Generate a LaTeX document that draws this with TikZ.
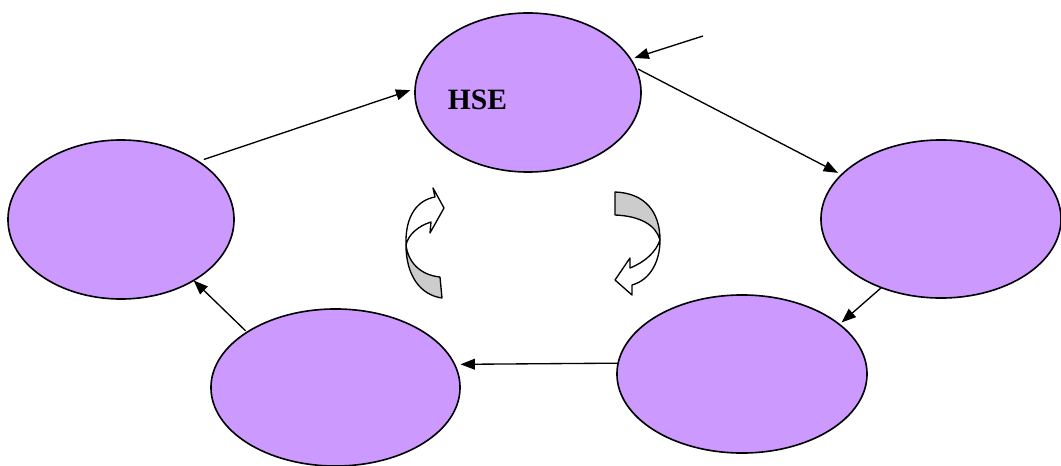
\documentclass[tikz,border=0pt]{standalone}
\usepackage{fontspec}
\setmainfont{Liberation Serif}
\usetikzlibrary{shapes.geometric,arrows.meta}
\definecolor{lilac}{RGB}{204,153,255}
\definecolor{bandgray}{RGB}{204,204,204}
\begin{document}
\begin{tikzpicture}[x=0.025cm,y=-0.025cm,
  blob/.style={ellipse,draw=black,line width=1.15pt,fill=lilac,inner sep=0pt,outer sep=0pt},
  conn/.style={-{Triangle[length=0.36cm,width=0.27cm]},line width=0.95pt},
  band/.style={draw=black,line width=0.95pt,line join=round}]
\useasboundingbox (0,0) rectangle (1061,466);
\node[blob,minimum width=5.65cm,minimum height=3.975cm] (hse) at (528,92.5) {};
\node[font=\bfseries\fontsize{21}{21}\selectfont,inner sep=0pt] (hsetext) at (477.5,100) {HSE};
\node[blob,minimum width=5.65cm,minimum height=3.975cm] (west) at (121,219.5) {};
\node[blob,minimum width=6cm,minimum height=3.95cm] (east) at (941,219) {};
\node[blob,minimum width=6.25cm,minimum height=3.95cm] (southeast) at (742,374) {};
\node[blob,minimum width=6.225cm,minimum height=3.925cm] (southwest) at (335.5,387.5) {};
\coordinate (feed) at (703,36);
\draw[conn,shorten <=0.15cm,shorten >=0.125cm] (west.37) -- (hse.178);
\draw[conn,shorten <=0.075cm,shorten >=0.1cm] (hse.13) -- (east.156);
\draw[conn,shorten >=0.1cm] (feed) -- (hse.18);
\draw[conn,shorten >=0.075cm] (east.229) -- (southeast.27);
\draw[conn,shorten >=0.15cm] (southeast.175) -- (southwest.11);
\draw[conn,shorten <=0.05cm] (southwest.148) -- (west.-40);
% left curved arrow
\filldraw[band,fill=bandgray] (406,245) .. controls (406,275) and (420,295) .. (442,298) -- (440,277) .. controls (420,275) and (408,262) .. (406,245) -- cycle;
\filldraw[band,fill=white] (406,245) .. controls (405,215) and (418,200) .. (435,197) -- (433,188) -- (444,208) -- (430,233) -- (431,222) .. controls (418,226) and (408,235) .. (406,245) -- cycle;
% right curved arrow
\filldraw[band,fill=bandgray] (615,192) .. controls (645,193) and (660,212) .. (660,240) .. controls (656,225) and (640,216) .. (615,215) -- cycle;
\filldraw[band,fill=white] (660,240) .. controls (660,262) and (650,280) .. (632,285) -- (632,295) -- (615,280) -- (630,258) -- (630,268) .. controls (645,262) and (656,252) .. (660,240) -- cycle;
\end{tikzpicture}
\end{document}
